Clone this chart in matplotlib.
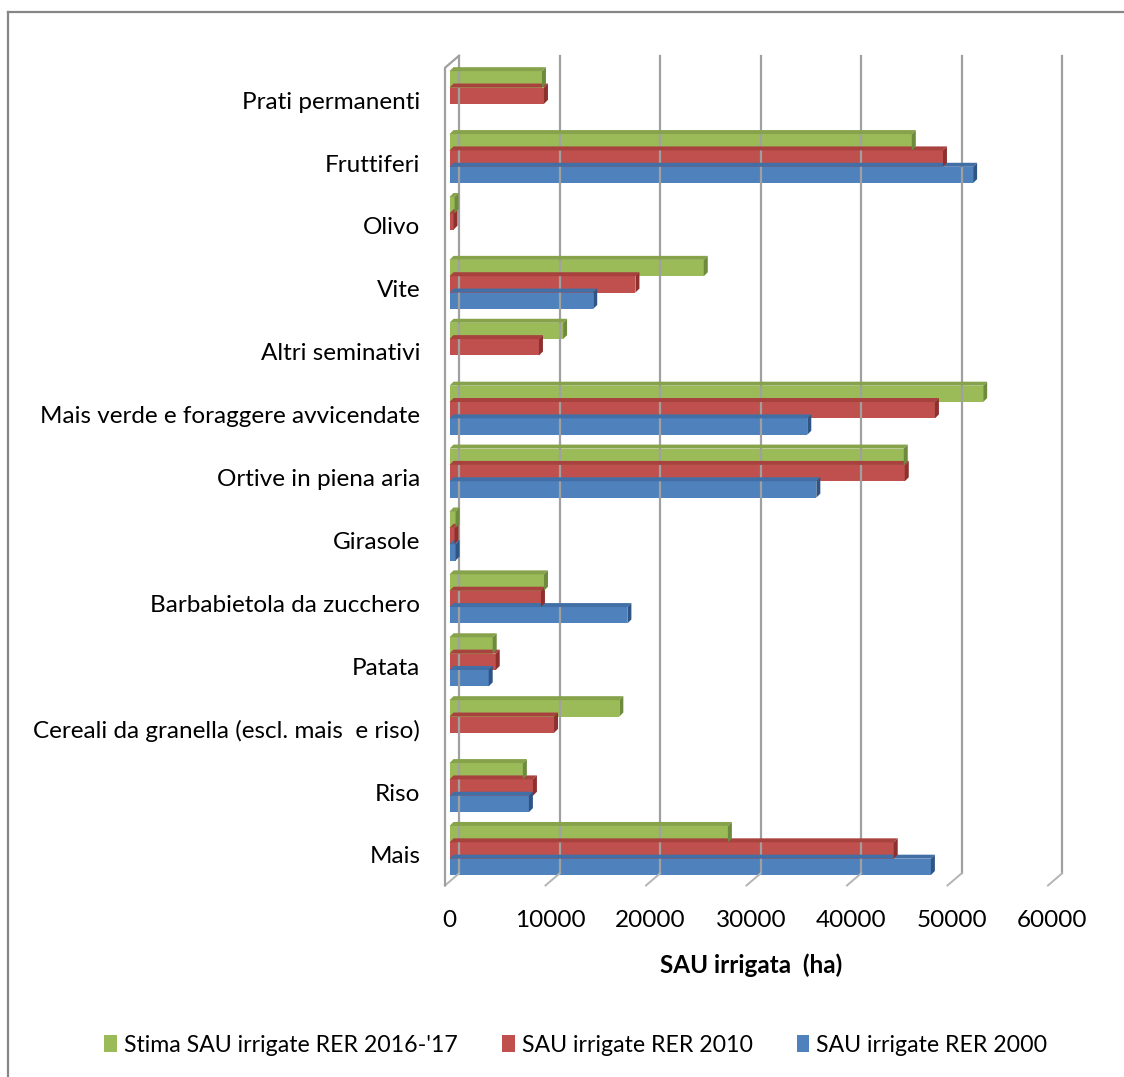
import numpy as np
import matplotlib
matplotlib.use("Agg")
import matplotlib.pyplot as plt
from matplotlib.lines import Line2D
from matplotlib.patches import Polygon, Rectangle

plt.rcParams["font.family"] = ["Lato", "DejaVu Sans"]

# categories from bottom to top
CATEGORIES = ["Mais", "Riso", "Cereali da granella (escl. mais  e riso)", "Patata",
              "Barbabietola da zucchero", "Girasole", "Ortive in piena aria",
              "Mais verde e foraggere avvicendate", "Altri seminativi", "Vite",
              "Olivo", "Fruttiferi", "Prati permanenti"]
STIMA_2016 = [27700, 7300, 16900, 4300, 9400, 600, 45200, 53100, 11300, 25300, 500, 46000, 9200]
SAU_2010 = [44200, 8300, 10400, 4600, 9100, 500, 45300, 48300, 8900, 18500, 400, 49100, 9400]
SAU_2000 = [47900, 7900, 0, 3900, 17700, 600, 36500, 35600, 0, 14300, 0, 52100, 0]
SERIES = ["Stima SAU irrigate RER 2016-'17", "SAU irrigate RER 2010", "SAU irrigate RER 2000"]
XTICKS = [0, 10000, 20000, 30000, 40000, 50000, 60000]

# front, top, side colours
C_GREEN = ("#9BBB59", "#86A34B", "#6E8B3D")
C_RED = ("#C0504D", "#A8423F", "#8E302E")
C_BLUE = ("#4F81BD", "#416FA6", "#2F5585")
C_GRID = "#A0A0A0"
FS = 17.5

W, H = 1124, 1077
fig = plt.figure(figsize=(W / 100, H / 100), dpi=100)
ax = fig.add_axes([449.5 / W, 1 - 881.95 / H, 603 / W, 817.7 / H])
ax.set_xlim(0, 60000)
ax.set_ylim(-0.5, 12.5)
for s in ax.spines.values():
    s.set_visible(False)

BAR_H = 0.26
DEPTH = np.array([4.0, 4.0])       # bar depth offset in px (right, up)
BACK = np.array([9.5, 8.5])        # back wall relative to bar face
FRONT = np.array([-4.5, -3.5])     # front floor edge relative to bar face
ident = matplotlib.transforms.IdentityTransform()
blend = matplotlib.transforms.blended_transform_factory(ax.transData, ax.transAxes)


def pt(tr, x, y, off=(0, 0)):
    return tr.transform((x, y)) + np.asarray(off)


# ---- walls / gridlines ----
for v in XTICKS:
    a, b = pt(blend, v, 0, BACK), pt(blend, v, 1, BACK)
    fig.add_artist(Line2D([a[0], b[0]], [a[1], b[1]], transform=ident,
                          color=C_GRID, lw=1.6, zorder=1))
    f = pt(blend, v, 0, FRONT)
    fig.add_artist(Line2D([f[0], a[0]], [f[1], a[1]], transform=ident,
                          color="#B4B4B4", lw=1.4, zorder=1))
a, b = pt(blend, 0, 0, FRONT), pt(blend, 0, 1, FRONT)
c = pt(blend, 0, 1, BACK)
fig.add_artist(Line2D([a[0], b[0], c[0]], [a[1], b[1], c[1]], transform=ident,
                      color=C_GRID, lw=1.6, zorder=1))

# ---- 3D bars ----
y = np.arange(len(CATEGORIES))
groups = [(SAU_2000, -BAR_H, C_BLUE, 3), (SAU_2010, 0.0, C_RED, 4),
          (STIMA_2016, BAR_H, C_GREEN, 5)]
for vals, off, cols, z in groups:
    ax.barh(y + off, vals, height=BAR_H, color=cols[0], lw=0, zorder=z + 0.5)
    for yi, v in zip(y + off, vals):
        if v <= 0:
            continue
        y0, y1 = yi - BAR_H / 2, yi + BAR_H / 2
        tl, tr_, br = pt(ax.transData, 0, y1), pt(ax.transData, v, y1), pt(ax.transData, v, y0)
        top = [tl, tr_, tr_ + DEPTH, tl + DEPTH]
        side = [br, tr_, tr_ + DEPTH, br + DEPTH]
        fig.add_artist(Polygon(top, closed=True, transform=ident, fc=cols[1], lw=0, zorder=z))
        fig.add_artist(Polygon(side, closed=True, transform=ident, fc=cols[2], lw=0, zorder=z + 0.2))

ax.set_yticks(y - 0.07, CATEGORIES)
ax.set_xticks(XTICKS, [str(t) for t in XTICKS])
ax.tick_params(axis="y", length=0, pad=21, labelsize=FS)
ax.tick_params(axis="x", length=0, pad=20, labelsize=FS)
ax.set_xlabel("SAU irrigata  (ha)", fontsize=FS, fontweight="bold", labelpad=16)

handles = [Rectangle((0, 0), 1, 1, fc=C_GREEN[0]), Rectangle((0, 0), 1, 1, fc=C_RED[0]),
           Rectangle((0, 0), 1, 1, fc=C_BLUE[0])]
fig.legend(handles, SERIES, loc="center", bbox_to_anchor=(576 / W, 1 - 1045 / H), ncol=3,
           frameon=False, fontsize=16.7, handlelength=0.55, handleheight=0.75,
           handletextpad=0.3, columnspacing=1.9)

# outer chart border (top and left visible)
fig.add_artist(Line2D([8 / W, 1], [1 - 12 / H, 1 - 12 / H], transform=fig.transFigure,
                      color="#868686", lw=1.6))
fig.add_artist(Line2D([8 / W, 8 / W], [0, 1 - 12 / H], transform=fig.transFigure,
                      color="#868686", lw=1.6))

fig.savefig("out.png", dpi=100)
